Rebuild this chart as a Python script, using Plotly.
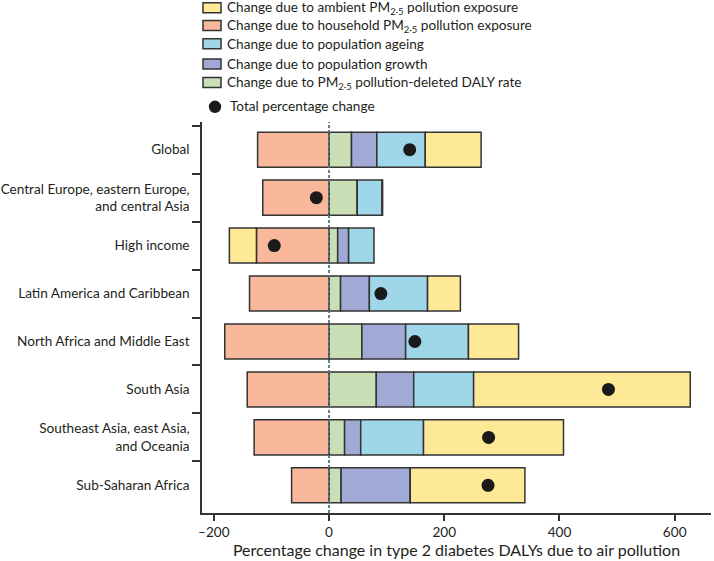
import plotly.graph_objects as go

# regions, top to bottom
regions = [
    "Global",
    "Central Europe, eastern Europe,<br>and central Asia",
    "High income",
    "Latin America and Caribbean",
    "North Africa and Middle East",
    "South Asia",
    "Southeast Asia, east Asia,<br>and Oceania",
    "Sub-Saharan Africa",
]

# decomposition components (% change)
deleted_rate = [39, 49, 15, 20, 57, 82, 27, 21]
pop_growth = [44, 0, 19, 50, 76, 65, 28, 120]
pop_ageing = [84, 43, 44, 101, 109, 104, 109, 0]
household = [-124, -115, -126, -138, -181, -142, -130, -65]
ambient = [97, 1, -47, 57, 87, 376, 243, 199]
total_change = [140, -22, -95, 90, 149, 485, 277, 276]

FONT = "Lato"
FS = 13.6
TXT = "#231f20"
EDGE = "#333333"

# plot area in pixels (used for the hand-made legend)
L, R, T, B = 202, 3, 122, 48
W, H = 714, 561
PW, PH = W - L - R, H - T - B


def px(x):
    return (x - L) / PW


def py(y):
    return (H - B - y) / PH


# stacking order: first trace sits next to zero
series = [
    ("Change due to PM<sub>2·5</sub> pollution-deleted DALY rate", deleted_rate, "#cadfb5"),
    ("Change due to population growth", pop_growth, "#a0aad4"),
    ("Change due to population ageing", pop_ageing, "#9fd7e8"),
    ("Change due to household PM<sub>2·5</sub> pollution exposure", household, "#f9b79b"),
    ("Change due to ambient PM<sub>2·5</sub> pollution exposure", ambient, "#fde996"),
]

fig = go.Figure()
for name, vals, col in series:
    fig.add_trace(go.Bar(
        y=regions, x=vals, name=name, orientation="h",
        marker=dict(color=col, line=dict(color=EDGE, width=1.5)),
        width=0.73, showlegend=False,
    ))

fig.add_trace(go.Scatter(
    y=regions, x=total_change, mode="markers", name="Total percentage change",
    marker=dict(color="#1a1a1a", size=13), showlegend=False,
))

# dashed zero line
fig.add_shape(type="line", xref="x", yref="paper", x0=0, x1=0, y0=0, y1=1,
              line=dict(color="#4f7480", width=1.8, dash="3px,2px"), layer="above")

# legend, drawn by hand to match the original spacing
rows = [7.7, 25.5, 43.7, 64, 82.5]
for (name, _, col), yc in zip(reversed(series), rows):
    fig.add_shape(type="rect", xref="paper", yref="paper",
                  x0=px(203), x1=px(221), y0=py(yc - 5), y1=py(yc + 5),
                  fillcolor=col, line=dict(color=EDGE, width=1.5))
    fig.add_annotation(xref="paper", yref="paper", x=px(225), y=py(yc),
                       xanchor="left", yanchor="middle", text=name,
                       showarrow=False, font=dict(size=FS))
fig.add_shape(type="circle", xref="paper", yref="paper",
              x0=px(208.8), x1=px(221.2), y0=py(100.6), y1=py(113),
              fillcolor="#1a1a1a", line=dict(color="#1a1a1a", width=0))
fig.add_annotation(xref="paper", yref="paper", x=px(228), y=py(106.5),
                   xanchor="left", yanchor="middle", text="Total percentage change",
                   showarrow=False, font=dict(size=FS))

fig.update_layout(
    width=W, height=H,
    barmode="relative",
    plot_bgcolor="white", paper_bgcolor="white",
    margin=dict(l=L, r=R, t=T, b=B, autoexpand=False),
    font=dict(family=FONT, size=FS, color=TXT),
    showlegend=False,
    xaxis=dict(range=[-220.5, 663], tickvals=[-200, 0, 200, 400, 600],
               ticktext=["–200", "0", "200", "400", "600"],
               showgrid=False, zeroline=False, showline=True,
               linecolor=EDGE, linewidth=1.5, ticks="outside", ticklen=6,
               tickcolor=EDGE, tickwidth=1.5,
               title=dict(text="Percentage change in type 2 diabetes DALYs due to air pollution",
                          standoff=4)),
    yaxis=dict(autorange="reversed", showgrid=False, zeroline=False,
               showline=True, linecolor=EDGE, linewidth=1.5,
               ticks="outside", ticklen=8, tickcolor=EDGE, tickwidth=1.5,
               tickson="boundaries", ticklabelstandoff=8),
)

# the page is photographed at exactly the figure size, so drop the body margin
fig.write_html("out.html", config={"displayModeBar": False},
               post_script="document.body.style.margin='0';")
